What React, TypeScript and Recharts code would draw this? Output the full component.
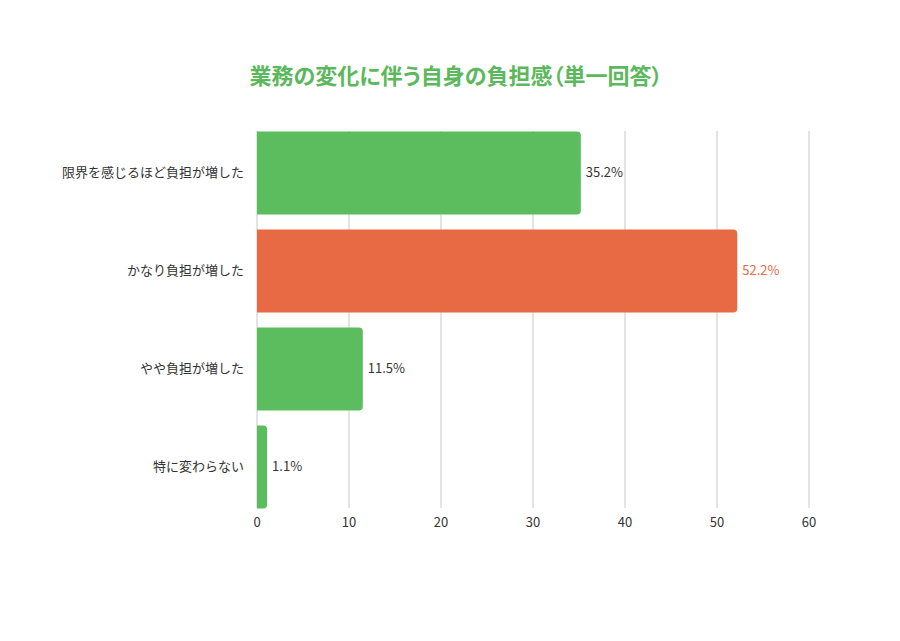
import React from 'react';
import { BarChart, Bar, XAxis, YAxis, CartesianGrid, Cell, LabelList } from 'recharts';

const categories = ['限界を感じるほど負担が増した', 'かなり負担が増した', 'やや負担が増した', '特に変わらない'];
const values = [35.2, 52.2, 11.5, 1.1];
const xTicks = [0, 10, 20, 30, 40, 50, 60];

const GREEN = '#5cbd5e';
const ORANGE = '#e86a45';
const HIGHLIGHT = 'かなり負担が増した';
const FONT = '"Noto Sans CJK JP", "Noto Sans", sans-serif';

const data = categories.map((name, i) => ({ name, value: values[i] }));

const renderValueLabel = (props: any) => {
  const { x, y, width, height, value, index } = props;
  const color = categories[index] === HIGHLIGHT ? ORANGE : '#333';
  return (
    <text
      x={x + width + 5}
      y={y + height / 2}
      dy="0.3em"
      fill={color}
      fontSize={13}
      fontFamily={FONT}
    >
      {`${value}%`}
    </text>
  );
};

export default function App() {
  return (
    <div style={{ position: 'absolute', left: 0, top: 0, width: 900, height: 641, background: '#fff', fontFamily: FONT }}>
      <div
        style={{
          position: 'absolute',
          top: 58,
          left: 0,
          width: 912,
          textAlign: 'center',
          fontSize: 22,
          fontWeight: 'bold',
          color: '#5cb85c',
          fontFeatureSettings: '"palt"',
        }}
      >
        業務の変化に伴う自身の負担感（単一回答）
      </div>
      <BarChart
        width={900}
        height={641}
        data={data}
        layout="vertical"
        margin={{ top: 123.5, right: 91, left: 0, bottom: 95.5 }}
      >
        <CartesianGrid horizontal={false} vertical stroke="#c8c8c8" y={131} height={377} />
        <XAxis
          type="number"
          domain={[0, 60]}
          ticks={xTicks}
          axisLine={false}
          tickLine={false}
          tickSize={0}
          tickMargin={2}
          height={30}
          tick={{ fill: '#333', fontSize: 13, fontFamily: FONT }}
        />
        <YAxis
          type="category"
          dataKey="name"
          width={257}
          axisLine={false}
          tickLine={false}
          tickMargin={7}
          tick={{ fill: '#333', fontSize: 13, fontFamily: FONT }}
        />
        <Bar dataKey="value" barSize={83} radius={[0, 4, 4, 0]} isAnimationActive={false}>
          {data.map((d) => (
            <Cell key={d.name} fill={d.name === HIGHLIGHT ? ORANGE : GREEN} />
          ))}
          <LabelList dataKey="value" content={renderValueLabel} />
        </Bar>
      </BarChart>
    </div>
  );
}
